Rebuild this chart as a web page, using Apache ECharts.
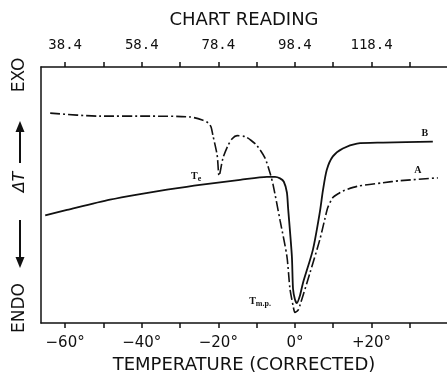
<!DOCTYPE html>
<html><head><meta charset="utf-8">
<script src="https://cdn.jsdelivr.net/npm/echarts@6/dist/echarts.min.js"></script>
<style>html,body{margin:0;padding:0;background:#fff}#c{width:447px;height:379px}</style>
</head><body><div id="c"></div>
<script>
// Temperature axis (corrected, degrees)
const tempTicks = [-60, -50, -40, -30, -20, -10, 0, 10, 20, 30];
const tempLabelValues = [-60, -40, -20, 0, 20];
const tempLabels = ['\u221260\u00b0', '\u221240\u00b0', '\u221220\u00b0', '0\u00b0', '+20\u00b0'];
// Chart reading (top axis) labels at the same positions
const chartReadingLabels = ['38.4', '58.4', '78.4', '98.4', '118.4'];

// Curve B (solid): [temperature, deltaT (arbitrary units)]
const curveB = [
  [-65.2, 42.1], [-59.5, 44.2], [-48.3, 48.2], [-40.4, 50.4], [-33.4, 52.1],
  [-24.8, 54.0], [-14.3, 55.9], [-7.3, 57.1], [-5.2, 57.1], [-3.9, 56.5],
  [-2.9, 55.2], [-2.1, 51.0], [-1.8, 45.2], [-0.8, 26.1], [-0.5, 13.4],
  [0.0, 9.2], [0.5, 7.8], [1.3, 10.7], [2.1, 15.7], [4.7, 28.7],
  [6.5, 43.3], [7.3, 51.7], [8.3, 59.8], [9.9, 65.1], [12.5, 68.2],
  [16.2, 70.1], [23.0, 70.5], [36.0, 70.9]
];
// Curve A (dash-dot)
const curveA = [
  [-63.9, 82.0], [-50.9, 80.8], [-37.8, 80.8], [-27.4, 80.5], [-24.0, 79.2],
  [-22.7, 78.2], [-21.9, 76.6], [-21.4, 73.2], [-20.3, 65.5], [-19.8, 57.5],
  [-18.8, 64.4], [-17.5, 69.3], [-16.4, 72.0], [-15.1, 73.2], [-13.0, 72.8],
  [-11.5, 71.4], [-9.9, 69.3], [-7.8, 64.4], [-6.5, 58.6], [-5.7, 54.0], [-3.9, 40.2],
  [-2.1, 26.1], [-1.3, 13.4], [-0.5, 6.9], [0.0, 4.2], [0.8, 5.0],
  [1.3, 6.9], [3.9, 19.5], [6.5, 32.6], [7.8, 40.6], [8.6, 45.2],
  [9.9, 49.0], [11.7, 50.9], [12.5, 51.6], [16.2, 53.4], [23.0, 54.8],
  [27.4, 55.6], [37.3, 56.7]
];
// Annotations
const labelTe = [-25.8, 57.3];
const labelTmp = [-9.1, 8.4];
const labelB = [33.9, 73.9];
const labelA = [32.1, 59.8];

const ink = '#111';
const chart = echarts.init(document.getElementById('c'));

function mp(coord, text, rich) {
  return { coord: coord, symbol: 'circle', symbolSize: 0,
    label: { show: true, position: 'inside', formatter: text, color: ink,
      fontFamily: 'Liberation Serif', fontSize: 10, fontWeight: 'bold', rich: rich || {} } };
}

chart.setOption({
  animation: false,
  backgroundColor: '#fff',
  grid: { left: 41, top: 67, right: 0, bottom: 51 },
  xAxis: [
    { type: 'value', position: 'bottom', min: -66.3, max: 39.7,
      name: 'TEMPERATURE (CORRECTED)', nameLocation: 'middle', nameGap: 31,
      nameTextStyle: { fontFamily: 'DejaVu Sans', fontSize: 18, color: ink },
      axisLine: { show: true, onZero: false, lineStyle: { color: ink, width: 1.5 } },
      axisTick: { show: true, length: 5, customValues: tempTicks, lineStyle: { color: ink, width: 1.5 } },
      axisLabel: { show: true, customValues: tempLabelValues, margin: 13,
        fontFamily: 'DejaVu Sans', fontSize: 15, color: ink,
        formatter: v => tempLabels[tempLabelValues.indexOf(v)] },
      splitLine: { show: false } },
    { type: 'value', position: 'top', min: -66.3, max: 39.7,
      name: 'CHART READING', nameLocation: 'middle', nameGap: 38,
      nameTextStyle: { fontFamily: 'DejaVu Sans', fontSize: 18, color: ink },
      axisLine: { show: true, onZero: false, lineStyle: { color: ink, width: 1.5 } },
      axisTick: { show: true, length: 5, customValues: tempTicks, lineStyle: { color: ink, width: 1.5 } },
      axisLabel: { show: true, customValues: tempLabelValues, margin: 15,
        fontFamily: 'DejaVu Sans Mono', fontSize: 14, color: ink,
        formatter: v => chartReadingLabels[tempLabelValues.indexOf(v)] },
      splitLine: { show: false } }
  ],
  yAxis: { type: 'value', min: 0, max: 100,
    axisLine: { show: true, onZero: false, lineStyle: { color: ink, width: 1.5 } },
    axisTick: { show: false }, axisLabel: { show: false }, splitLine: { show: false } },
  series: [
    { type: 'line', xAxisIndex: 0, data: curveB, showSymbol: false, smooth: 0.25,
      lineStyle: { color: ink, width: 1.8 },
      markPoint: { animation: false, data: [
        mp(labelTe, '{t|T}{s|e}', { t: { fontSize: 10, fontFamily: 'Liberation Serif', fontWeight: 'bold', color: ink },
          s: { fontSize: 8, fontFamily: 'Liberation Serif', fontWeight: 'bold', color: ink, padding: [6, 0, 0, 0] } }),
        mp(labelTmp, '{t|T}{s|m.p.}', { t: { fontSize: 10, fontFamily: 'Liberation Serif', fontWeight: 'bold', color: ink },
          s: { fontSize: 8, fontFamily: 'Liberation Serif', fontWeight: 'bold', color: ink, padding: [5, 0, 0, 0] } }),
        mp(labelB, 'B'),
        mp(labelA, 'A')
      ] } },
    { type: 'line', xAxisIndex: 0, data: curveA, showSymbol: false, smooth: 0.25,
      lineStyle: { color: ink, width: 1.6, type: [10, 3, 2, 3] } }
  ],
  graphic: [
    { type: 'text', x: 20, y: 75, rotation: Math.PI / 2,
      style: { text: 'EXO', fill: ink, font: '17px "DejaVu Sans"', align: 'center', verticalAlign: 'middle' } },
    { type: 'text', x: 20, y: 182, rotation: Math.PI / 2,
      style: { text: '\u0394T', fill: ink, font: 'italic 16px "DejaVu Sans"', align: 'center', verticalAlign: 'middle' } },
    { type: 'text', x: 20, y: 308, rotation: Math.PI / 2,
      style: { text: 'ENDO', fill: ink, font: '17px "DejaVu Sans"', align: 'center', verticalAlign: 'middle' } },
    { type: 'line', shape: { x1: 20, y1: 163, x2: 20, y2: 128 }, style: { stroke: ink, lineWidth: 2 } },
    { type: 'polygon', shape: { points: [[20, 121], [15.5, 132], [24.5, 132]] }, style: { fill: ink } },
    { type: 'line', shape: { x1: 20, y1: 220, x2: 20, y2: 260 }, style: { stroke: ink, lineWidth: 2 } },
    { type: 'polygon', shape: { points: [[20, 268], [15.5, 257], [24.5, 257]] }, style: { fill: ink } }
  ]
});
</script></body></html>
